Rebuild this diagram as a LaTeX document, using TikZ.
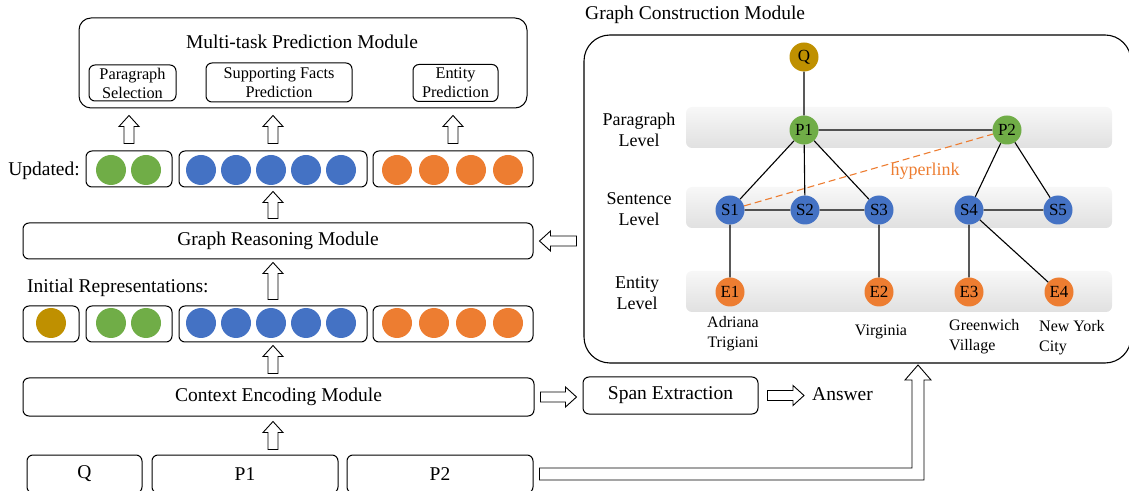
\documentclass[tikz,border=0pt]{standalone}
\usepackage{fontspec}
\setmainfont{Liberation Serif}
\usetikzlibrary{calc}

\definecolor{qgold}{HTML}{BF9000}
\definecolor{pgreen}{HTML}{70AD47}
\definecolor{sblue}{HTML}{4472C4}
\definecolor{eorange}{HTML}{ED7D31}

% hollow block arrows, tail first then tip
\newcommand{\vfat}[2]{%
	\draw[hollow] let \p1=(#1), \p2=(#2), \p3=($(\x1,\y2)!11pt!(\p1)$) in
		(\x1-5pt,\y1) -- (\x1-5pt,\y3) -- (\x1-10pt,\y3) -- (\x1,\y2)
		-- (\x1+10pt,\y3) -- (\x1+5pt,\y3) -- (\x1+5pt,\y1) -- cycle;}
\newcommand{\hfat}[2]{%
	\draw[hollow] let \p1=(#1), \p2=(#2), \p3=($(\x2,\y1)!11pt!(\p1)$) in
		(\x1,\y1-5pt) -- (\x3,\y1-5pt) -- (\x3,\y1-10pt) -- (\x2,\y1)
		-- (\x3,\y1+10pt) -- (\x3,\y1+5pt) -- (\x1,\y1+5pt) -- cycle;}

\begin{document}
\begin{tikzpicture}[x=1pt, y=1pt,
	box/.style={draw, line width=1pt, rounded corners=6pt, inner sep=0pt},
	bigtxt/.style={font=\fontsize{19.5}{21}\selectfont},
	smalltxt/.style={font=\fontsize{16.3}{19}\selectfont, align=center},
	lvltxt/.style={font=\fontsize{18}{21}\selectfont, align=center},
	nametxt/.style={font=\fontsize{16}{20}\selectfont},
	dot/.style={circle, minimum size=30pt, inner sep=0pt},
	gnode/.style={circle, minimum size=29pt, inner sep=0pt, font=\fontsize{17}{17}\selectfont},
	band/.style={rounded corners=6pt, top color=gray!6, bottom color=gray!24},
	hollow/.style={draw, line width=0.9pt, fill=white},
	edge/.style={line width=1.1pt}]
	\useasboundingbox (0,0) rectangle (1129,490);
	\clip (0,0) rectangle (1129,490);

	% left column
	\node[box, rounded corners=12pt, minimum width=448pt, minimum height=90pt] (mtp) at (303,427) {};
	\node[bigtxt] (mtitle) at (302,448) {Multi-task Prediction Module};
	\node[box, smalltxt, minimum width=87pt, minimum height=36pt] (ps) at (132.5,407) {Paragraph\\Selection};
	\node[box, smalltxt, minimum width=146pt, minimum height=39pt] (sfp) at (279,407.5) {Supporting Facts\\Prediction};
	\node[box, smalltxt, minimum width=85pt, minimum height=37pt] (ep) at (455.5,407) {Entity\\Prediction};

	\node[bigtxt, anchor=east, inner sep=0pt] (updlbl) at (80,319) {Updated:};
	\node[box, minimum width=86pt, minimum height=36pt] (updG) at (129,321) {};
	\node[box, minimum width=188pt, minimum height=36pt] (updB) at (273,321) {};
	\node[box, minimum width=160pt, minimum height=36pt] (updO) at (453,321) {};
	\foreach \x in {111,146}
		\node[dot, fill=pgreen] (ug\x) at (\x,320) {};
	\foreach \x in {201,236,271,306,341}
		\node[dot, fill=sblue] (ub\x) at (\x,320) {};
	\foreach \x in {397,434,471,508}
		\node[dot, fill=eorange] (uo\x) at (\x,320) {};

	\node[box, bigtxt, minimum width=510pt, minimum height=36pt] (gr) at (278,249) {Graph Reasoning Module};

	\node[bigtxt, anchor=west, inner sep=0pt] (inilbl) at (27,202) {Initial Representations:};
	\node[box, minimum width=56pt, minimum height=36pt] (iniQ) at (51,166) {};
	\node[box, minimum width=86pt, minimum height=36pt] (iniG) at (129,166) {};
	\node[box, minimum width=188pt, minimum height=36pt] (iniB) at (273,166) {};
	\node[box, minimum width=160pt, minimum height=36pt] (iniO) at (453,166) {};
	\node[dot, fill=qgold] (iq) at (51,167) {};
	\foreach \x in {111,146}
		\node[dot, fill=pgreen] (ig\x) at (\x,167) {};
	\foreach \x in {201,236,271,306,341}
		\node[dot, fill=sblue] (ib\x) at (\x,167) {};
	\foreach \x in {397,434,471,508}
		\node[dot, fill=eorange] (io\x) at (\x,167) {};

	\node[box, bigtxt, minimum width=511pt, minimum height=38pt] (ctx) at (278.5,93) {Context Encoding Module};
	\node[box, bigtxt, minimum width=115pt, minimum height=38pt] (bQ) at (84.5,16) {Q};
	\node[box, bigtxt, minimum width=186pt, minimum height=38pt] (bP1) at (245,16) {P1};
	\node[box, bigtxt, minimum width=186pt, minimum height=38pt] (bP2) at (440,16) {P2};

	\node[box, bigtxt, minimum width=175pt, minimum height=37pt] (span) at (670.5,94.5) {Span Extraction};
	\node[bigtxt, anchor=west, inner sep=0pt] (ans) at (812,96) {Answer};

	% graph construction
	\node[draw, line width=1.1pt, rounded corners=26pt, minimum width=547pt, minimum height=328pt, inner sep=0pt] (gcm) at (857.5,291) {};
	\node[bigtxt, anchor=west, inner sep=0pt] (gctitle) at (585,475) {Graph Construction Module};

	\shade[band] (686,342) rectangle (1112,383);
	\shade[band] (686,262) rectangle (1112,303);
	\shade[band] (686,178) rectangle (1112,219);

	\node[lvltxt] (lvlP) at (639,360) {Paragraph\\Level};
	\node[lvltxt] (lvlS) at (639,281) {Sentence\\Level};
	\node[lvltxt] (lvlE) at (637,197) {Entity\\Level};

	\node[gnode, fill=qgold] (q) at (804,433) {Q};
	\node[gnode, fill=pgreen] (p1) at (804,360) {P1};
	\node[gnode, fill=pgreen] (p2) at (1007,360) {P2};
	\foreach \n/\x in {1/730,2/805,3/879,4/969,5/1058}
		\node[gnode, fill=sblue] (s\n) at (\x,280) {S\n};
	\foreach \n/\x in {1/730,2/879,3/969,4/1059}
		\node[gnode, fill=eorange] (e\n) at (\x,198) {E\n};

	\draw[edge] (q) -- (p1) (p1) -- (p2)
		(p1) -- (s1) (p1) -- (s2) (p1) -- (s3)
		(p2) -- (s4) (p2) -- (s5)
		(s1) -- (s2) (s2) -- (s3) (s4) -- (s5)
		(s1) -- (e1) (s3) -- (e2) (s4) -- (e3) (s4) -- (e4);
	\draw[edge, eorange, dash pattern=on 7pt off 4pt] (s1) -- (p2);
	\node[lvltxt, text=eorange] (hlink) at (925,319) {hyperlink};

	\node[nametxt, align=center] (nE1) at (733,156) {Adriana\\Trigiani};
	\node[nametxt] (nE2) at (881,158) {Virginia};
	\node[nametxt, align=left, anchor=west, inner sep=0pt] (nE3) at (949,153) {Greenwich\\Village};
	\node[nametxt, align=left, anchor=west, inner sep=0pt] (nE4) at (1039,152) {New York\\City};

	% arrows
	\vfat{[yshift=7pt]updG.north}{[yshift=-7pt]mtp.south}
	\vfat{[yshift=7pt]updB.north}{[yshift=-7pt]mtp.south}
	\vfat{[yshift=7pt]updO.north}{[yshift=-7pt]mtp.south}
	\vfat{$(updB.south |- gr.north)+(0,4)$}{$(updB.south)+(0,-4)$}
	\vfat{$(iniB.north)+(0,6)$}{$(gr.south)+(0,-3)$}
	\vfat{$(iniB.south |- ctx.north)+(0,4)$}{$(iniB.south)+(0,-3)$}
	\vfat{$(iniB.south |- bP1.north)+(0,5)$}{$(ctx.south)+(0,-5)$}
	\hfat{[xshift=6pt]ctx.east}{[xshift=-6pt]span.west}
	\hfat{[xshift=9pt]span.east}{[xshift=-8pt]ans.west}
	\hfat{$(gcm.west |- gr.east)+(-7,0)$}{[xshift=6pt]gr.east}

	\coordinate (gcin) at (918,125);
	\draw[hollow] let \p1=([xshift=6pt]bP2.east), \p2=(gcin) in
		(\x1,\y1+6pt) -- (\x2-6pt,\y1+6pt) -- (\x2-6pt,\y2-15pt) -- (\x2-13pt,\y2-15pt)
		-- (\x2,\y2) -- (\x2+13pt,\y2-15pt) -- (\x2+6pt,\y2-15pt)
		-- (\x2+6pt,\y1-6pt) -- (\x1,\y1-6pt) -- cycle;
\end{tikzpicture}
\end{document}
